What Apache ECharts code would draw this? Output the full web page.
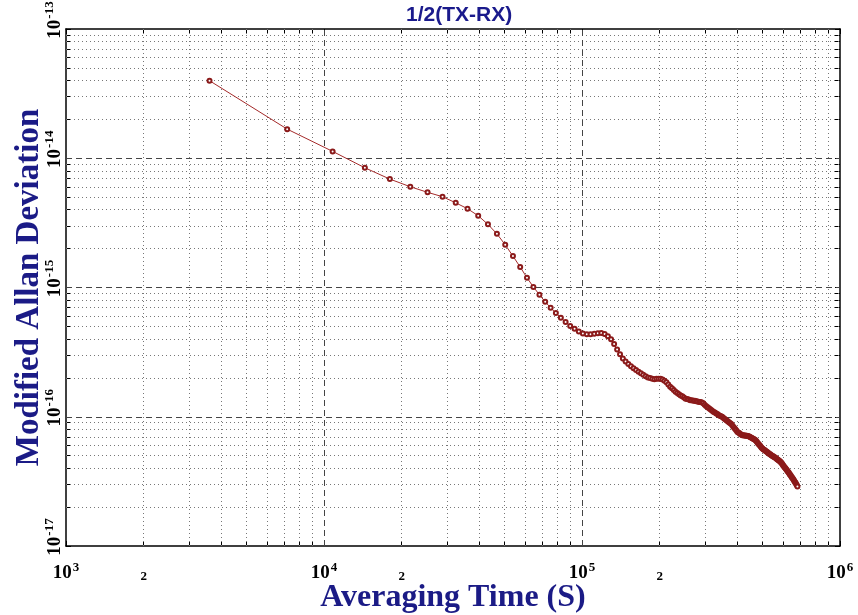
<!DOCTYPE html>
<html>
<head>
<meta charset="utf-8">
<script src="https://cdn.jsdelivr.net/npm/echarts@6/dist/echarts.min.js"></script>
<style>
html,body{margin:0;padding:0;background:#fff;}
#chart{width:858px;height:615px;}
</style>
</head>
<body>
<div id="chart"></div>
<script>
// Averaging times (s)
const tauSeconds = [
3600,7200,10800,14400,18000,21600,25200,28800,32400,36000,
39600,43200,46800,50400,54000,57600,61200,64800,68400,72000,
75600,79200,82800,86400,90000,93600,97200,100800,104400,108000,
111600,115200,118800,122400,126000,129600,133200,136800,140400,144000,
147600,151200,154800,158400,162000,165600,169200,172800,176400,180000,
183600,187200,190800,194400,198000,201600,205200,208800,212400,216000,
219600,223200,226800,230400,234000,237600,241200,244800,248400,252000,
255600,259200,262800,266400,270000,273600,277200,280800,284400,288000,
291600,295200,298800,302400,306000,309600,313200,316800,320400,324000,
327600,331200,334800,338400,342000,345600,349200,352800,356400,360000,
363600,367200,370800,374400,378000,381600,385200,388800,392400,396000,
399600,403200,406800,410400,414000,417600,421200,424800,428400,432000,
435600,439200,442800,446400,450000,453600,457200,460800,464400,468000,
471600,475200,478800,482400,486000,489600,493200,496800,500400,504000,
507600,511200,514800,518400,522000,525600,529200,532800,536400,540000,
543600,547200,550800,554400,558000,561600,565200,568800,572400,576000,
579600,583200,586800,590400,594000,597600,601200,604800,608400,612000,
615600,619200,622800,626400,630000,633600,637200,640800,644400,648000,
651600,655200,658800,662400,666000,669600,673200,676800,680400,684000
];
// Modified Allan deviation
const modAdev = [
3.98e-14,1.68e-14,1.13e-14,8.44e-15,6.90e-15,6.02e-15,5.45e-15,5.04e-15,4.52e-15,4.07e-15,
3.59e-15,3.08e-15,2.60e-15,2.14e-15,1.75e-15,1.44e-15,1.19e-15,1.01e-15,8.78e-16,7.75e-16,
6.96e-16,6.34e-16,5.83e-16,5.40e-16,5.03e-16,4.79e-16,4.57e-16,4.41e-16,4.34e-16,4.35e-16,
4.39e-16,4.43e-16,4.44e-16,4.37e-16,4.20e-16,3.97e-16,3.65e-16,3.32e-16,3.04e-16,2.82e-16,
2.68e-16,2.56e-16,2.46e-16,2.37e-16,2.30e-16,2.23e-16,2.17e-16,2.11e-16,2.06e-16,2.01e-16,
1.99e-16,1.97e-16,1.95e-16,1.97e-16,1.97e-16,1.97e-16,1.94e-16,1.90e-16,1.85e-16,1.78e-16,
1.71e-16,1.66e-16,1.61e-16,1.56e-16,1.53e-16,1.49e-16,1.46e-16,1.44e-16,1.41e-16,1.38e-16,
1.37e-16,1.36e-16,1.34e-16,1.34e-16,1.33e-16,1.33e-16,1.32e-16,1.31e-16,1.30e-16,1.30e-16,
1.29e-16,1.27e-16,1.24e-16,1.21e-16,1.19e-16,1.17e-16,1.15e-16,1.13e-16,1.11e-16,1.09e-16,
1.08e-16,1.06e-16,1.05e-16,1.03e-16,1.02e-16,1.01e-16,1.00e-16,9.84e-17,9.67e-17,9.51e-17,
9.36e-17,9.21e-17,9.08e-17,8.94e-17,8.81e-17,8.63e-17,8.41e-17,8.22e-17,8.03e-17,7.85e-17,
7.64e-17,7.55e-17,7.47e-17,7.37e-17,7.29e-17,7.20e-17,7.19e-17,7.17e-17,7.15e-17,7.13e-17,
7.12e-17,7.09e-17,7.08e-17,7.01e-17,6.95e-17,6.89e-17,6.82e-17,6.76e-17,6.70e-17,6.64e-17,
6.54e-17,6.43e-17,6.30e-17,6.19e-17,6.08e-17,5.98e-17,5.86e-17,5.76e-17,5.67e-17,5.61e-17,
5.55e-17,5.50e-17,5.44e-17,5.38e-17,5.33e-17,5.27e-17,5.21e-17,5.16e-17,5.12e-17,5.07e-17,
5.02e-17,4.98e-17,4.94e-17,4.89e-17,4.85e-17,4.82e-17,4.77e-17,4.72e-17,4.67e-17,4.62e-17,
4.58e-17,4.54e-17,4.49e-17,4.44e-17,4.37e-17,4.30e-17,4.22e-17,4.16e-17,4.09e-17,4.04e-17,
3.97e-17,3.90e-17,3.85e-17,3.79e-17,3.73e-17,3.68e-17,3.61e-17,3.56e-17,3.51e-17,3.44e-17,
3.39e-17,3.34e-17,3.28e-17,3.22e-17,3.17e-17,3.12e-17,3.07e-17,3.01e-17,2.95e-17,2.89e-17
];

const xMin = 1e3, xMax = 1e6;
const yMin = 1e-17, yMax = 1e-13;
const xMajorTicks = [1e3, 1e4, 1e5, 1e6];
const xMinorTicks = [2e3,3e3,4e3,5e3,6e3,7e3,8e3,9e3, 2e4,3e4,4e4,5e4,6e4,7e4,8e4,9e4, 2e5,3e5,4e5,5e5,6e5,7e5,8e5,9e5];
const xLabelValues = [1e3, 2e3, 1e4, 2e4, 1e5, 2e5, 1e6];
const yMajorTicks = [1e-17, 1e-16, 1e-15, 1e-14, 1e-13];
const yMinorTicks = [2e-17,3e-17,4e-17,5e-17,6e-17,7e-17,8e-17,9e-17,
  2e-16,3e-16,4e-16,5e-16,6e-16,7e-16,8e-16,9e-16,
  2e-15,3e-15,4e-15,5e-15,6e-15,7e-15,8e-15,9e-15,
  2e-14,3e-14,4e-14,5e-14,6e-14,7e-14,8e-14,9e-14];
const yLabelValues = yMajorTicks;
const xMajorGrid = [1e4, 1e5];
const yMajorGrid = [1e-16, 1e-15, 1e-14];

const titleText = '1/2(TX-RX)';
const xName = 'Averaging Time (S)';
const yName = 'Modified Allan Deviation';

const serif = '"Liberation Serif","Times New Roman",serif';
const navy = '#1b1b86';

function powLabel(v) {
  const e = Math.round(Math.log10(v));
  const m = Math.round(v / Math.pow(10, e));
  if (m === 1) return '{b|10}{s|' + e + '}';
  return '{m|' + m + '}';
}
const richStyle = {
  b: {fontFamily: serif, fontWeight: 'bold', fontSize: 19, color: '#000', lineHeight: 22, verticalAlign: 'bottom'},
  s: {fontFamily: serif, fontWeight: 'bold', fontSize: 13, color: '#000', lineHeight: 13, verticalAlign: 'top', padding: [0,0,0,1]},
  m: {fontFamily: serif, fontWeight: 'bold', fontSize: 13, color: '#000', lineHeight: 22, verticalAlign: 'bottom'}
};

const dotted = {color: '#777', width: 1, type: [1, 3]};
const dashed = {color: '#444', width: 1, type: [6, 4]};

const gridLines = []
  .concat(xMinorTicks.map(v => ({xAxis: v, lineStyle: dotted})))
  .concat(yMinorTicks.map(v => ({yAxis: v, lineStyle: dotted})))
  .concat(xMajorGrid.map(v => ({xAxis: v, lineStyle: dashed})))
  .concat(yMajorGrid.map(v => ({yAxis: v, lineStyle: dashed})));

const points = tauSeconds.map((t, i) => [t, modAdev[i]]);

const tickStyle = {color: '#000', width: 1};
function xAxisDef(pos, withLabels) {
  return {
    type: 'log', logBase: 10, min: xMin, max: xMax, position: pos,
    axisLine: {show: true, onZero: false, lineStyle: {color: '#000', width: 1.5}},
    axisTick: {show: true, inside: true, length: 5, customValues: xMinorTicks.concat(xMajorTicks), lineStyle: tickStyle},
    axisLabel: withLabels ? {show: true, customValues: xLabelValues, formatter: powLabel, rich: richStyle, margin: 15} : {show: false},
    splitLine: {show: false}, minorTick: {show: false}, minorSplitLine: {show: false},
    name: withLabels ? xName : '', nameLocation: 'middle', nameGap: 36, nameMoveOverlap: false,
    nameTextStyle: {fontFamily: serif, fontWeight: 'bold', fontSize: 32, color: navy}
  };
}
function yAxisDef(pos, withLabels) {
  return {
    type: 'log', logBase: 10, min: yMin, max: yMax, position: pos,
    axisLine: {show: true, onZero: false, lineStyle: {color: '#000', width: 1.5}},
    axisTick: {show: true, inside: true, length: 5, customValues: yMinorTicks.concat(yMajorTicks), lineStyle: tickStyle},
    axisLabel: withLabels ? {show: true, customValues: yLabelValues, formatter: powLabel, rich: richStyle, rotate: 90, margin: 1, padding: [0, 0, 0, 18]} : {show: false},
    splitLine: {show: false}, minorTick: {show: false}, minorSplitLine: {show: false},
    name: withLabels ? yName : '', nameLocation: 'middle', nameGap: 20, nameRotate: 90, nameMoveOverlap: false,
    nameTextStyle: {fontFamily: serif, fontWeight: 'bold', fontSize: 33, color: navy}
  };
}

const chart = echarts.init(document.getElementById('chart'), null, {renderer: 'canvas'});
chart.setOption({
  animation: false,
  backgroundColor: '#fff',
  grid: {left: 66, right: 18, top: 29, bottom: 69, containLabel: false, outerBoundsMode: 'none', show: false},
  graphic: [{
    type: 'text', left: 406, top: 5, z: 100,
    style: {text: titleText, fontFamily: '"Liberation Sans",Arial,sans-serif', fontSize: 21, fontWeight: 'bold', fill: '#1a1a8c'}
  }],
  xAxis: [xAxisDef('bottom', true), xAxisDef('top', false)],
  yAxis: [yAxisDef('left', true), yAxisDef('right', false)],
  series: [
    {
      name: 'grid', type: 'line', xAxisIndex: 0, yAxisIndex: 0, z: 1,
      data: points, showSymbol: false, symbol: 'none',
      lineStyle: {opacity: 0}, silent: true,
      markLine: {silent: true, precision: 20, symbol: ['none', 'none'], label: {show: false}, animation: false, data: gridLines}
    },
    {
      name: 'MDEV', type: 'line', xAxisIndex: 0, yAxisIndex: 0, z: 5,
      data: points, symbol: 'emptyCircle', symbolSize: 4, showSymbol: true,
      lineStyle: {color: '#a52a2a', width: 1},
      itemStyle: {color: '#8b1a1a', borderColor: '#8b1a1a', borderWidth: 1}
    }
  ]
});
</script>
</body>
</html>
